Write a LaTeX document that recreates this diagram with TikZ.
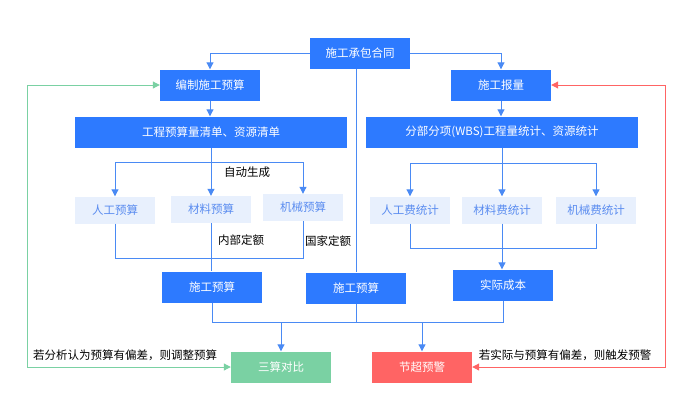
\documentclass[tikz,border=0pt]{standalone}
\usepackage{fontspec}
\setmainfont{Noto Sans CJK SC}
\usetikzlibrary{arrows.meta, positioning}

\definecolor{boxblue}{HTML}{2D7AFF}
\definecolor{lightbox}{HTML}{E8F0FD}
\definecolor{lighttext}{HTML}{5A8CF0}
\definecolor{lineblue}{HTML}{4A8AF4}
\definecolor{okgreen}{HTML}{7AD1A3}
\definecolor{warnred}{HTML}{FF6464}

\begin{document}
\begin{tikzpicture}[x=1pt, y=-1pt, >={Triangle[length=7pt,width=7pt]},
        font=\fontsize{11.5}{13}\selectfont,
        mainbox/.style={fill=boxblue, text=white, minimum width=100pt, minimum height=31pt, inner sep=0pt},
        subbox/.style={fill=lightbox, text=lighttext, minimum width=80pt, minimum height=27pt, inner sep=0pt},
        link/.style={draw=lineblue, line width=1pt}]
        \useasboundingbox (0,0) rectangle (700,410);

        % Top nodes
        \node[mainbox] (contract) at (360,53) {施工承包合同};
        \node[mainbox] (budget) at (210,85) {编制施工预算};
        \node[mainbox] (report) at (501,85) {施工报量};
        \node[mainbox, minimum width=272pt] (budlist) at (211,132) {工程预算量清单、资源清单};
        \node[mainbox, minimum width=272pt] (wbs) at (502,132) {分部分项(WBS)工程量统计、资源统计};

        % Sub items
        \node[subbox] (labor) at (115,210) {人工预算};
        \node[subbox] (material) at (211,209.5) {材料预算};
        \node[subbox] (machine) at (303,207.5) {机械预算};
        \node[subbox] (laborcost) at (410,210) {人工费统计};
        \node[subbox] (matcost) at (502,210) {材料费统计};
        \node[subbox] (maccost) at (596,210) {机械费统计};

        % Results
        \node[mainbox] (plan) at (212,287) {施工预算};
        \node[mainbox] (plantwo) at (356,288) {施工预算};
        \node[mainbox] (actual) at (503,285) {实际成本};
        \node[mainbox, fill=okgreen] (compare) at (281,367) {三算对比};
        \node[mainbox, fill=warnred] (warn) at (422,367) {节超预警};

        % Helper coordinates
        \coordinate (lbar) at (0,162);
        \coordinate (rbar) at (0,163);
        \coordinate (lbase) at (0,258);
        \coordinate (rbase) at (0,248);
        \coordinate (bbar) at (0,322);
        \coordinate (gleft) at (27,0);
        \coordinate (rright) at (665,0);

        % Arrows from contract
        \draw[link, ->] (contract.west) -| (budget.north);
        \draw[link, ->] (contract.east) -| (report.north);
        \draw[link] (plantwo.north |- contract.south) -- (plantwo.north);
        \draw[link, ->] (budget.south) -- (budget.south |- budlist.north);
        \draw[link, ->] (report.south) -- (report.south |- wbs.north);

        % Left fork
        \draw[link] (budlist.south) -- (budlist.south |- lbar);
        \draw[link] (labor.north |- lbar) -- (machine.north |- lbar);
        \foreach \n in {labor, material, machine}
            \draw[link, ->] (\n.north |- lbar) -- (\n.north);
        \node at (247,172) {自动生成};
        \draw[link] (labor.south) -- (labor.south |- lbase) -- (machine.south |- lbase) -- (machine.south);
        \draw[link] (material.south) -- (material.south |- plan.north);
        \node at (241,240) {内部定额};
        \node at (328,241) {国家定额};

        % Right fork
        \draw[link] (wbs.south) -- (wbs.south |- rbar);
        \draw[link] (laborcost.north |- rbar) -- (maccost.north |- rbar);
        \foreach \n in {laborcost, matcost, maccost}
            \draw[link, ->] (\n.north |- rbar) -- (\n.north);
        \draw[link] (laborcost.south) -- (laborcost.south |- rbase) -- (maccost.south |- rbase) -- (maccost.south);
        \draw[link, ->] (matcost.south) -- (matcost.south |- actual.north);

        % Bottom merge
        \draw[link] (plan.south) -- (plan.south |- bbar) -- (actual.south |- bbar) -- (actual.south);
        \draw[link] (plantwo.south) -- (plantwo.south |- bbar);
        \draw[link, ->] (compare.north |- bbar) -- (compare.north);
        \draw[link, ->] (warn.north |- bbar) -- (warn.north);

        % Feedback loops
        \draw[<->, okgreen, line width=1pt] (compare.west) -- (compare.west -| gleft) |- (budget.west);
        \node at (125,355) {若分析认为预算有偏差，则调整预算};
        \draw[<->, warnred, line width=1pt] (warn.east) -- (warn.east -| rright) |- (report.east);
        \node at (565,355) {若实际与预算有偏差，则触发预警};

    \end{tikzpicture}
\end{document}
